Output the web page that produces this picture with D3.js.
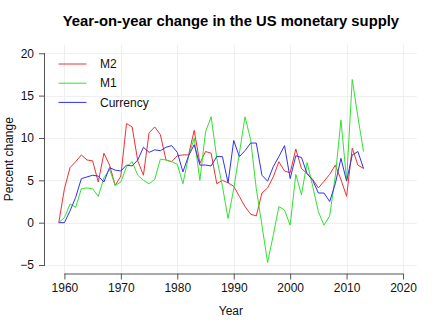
<!DOCTYPE html>
<html>
<head>
<meta charset="utf-8">
<script src="https://cdn.jsdelivr.net/npm/d3@7"></script>
<style>
  html, body { margin: 0; padding: 0; background: #fff; }
  svg { display: block; font-family: "Liberation Sans", Arial, Helvetica, sans-serif; }
</style>
</head>
<body>
<svg id="chart" width="440" height="330"></svg>
<script>
// ---- data ----
const years = d3.range(1959, 2014);
const m2 = [0, 4.0, 6.5, 7.2, 8.0, 7.4, 7.3, 4.8, 8.2, 6.8,
            4.4, 5.5, 11.7, 11.3, 7.3, 5.6, 10.6, 11.3, 10.4, 7.4,
            7.2, 7.9, 8.0, 8.0, 10.9, 7.0, 8.4, 8.2, 4.6, 5.0,
            4.7, 4.3, 3.1, 1.9, 1.0, 0.8, 3.5, 4.1, 5.4, 7.2,
            6.1, 5.9, 8.7, 6.4, 5.8, 5.1, 4.1, 4.9, 5.7, 6.8,
            5.1, 3.1, 8.8, 6.8, 6.4];
const m1 = [0, 0.6, 2.2, 1.8, 4.0, 4.1, 4.0, 3.1, 5.3, 6.3,
            4.4, 4.8, 6.6, 7.2, 5.6, 5.0, 4.6, 5.1, 7.5, 7.4,
            7.2, 6.9, 4.6, 7.8, 10.0, 5.0, 10.7, 12.5, 7.6, 4.3,
            0.5, 4.0, 8.2, 12.5, 9.8, 4.0, -0.3, -4.7, -1.5, 1.9,
            1.5, -0.3, 5.7, 3.3, 7.1, 4.3, 1.3, -0.3, 0.8, 5.5,
            12.1, 5.0, 16.9, 12.5, 8.4];
const currency = [0, 0, 1.4, 3.0, 5.2, 5.4, 5.6, 5.5, 4.8, 6.5,
            6.2, 6.1, 6.8, 6.7, 7.4, 8.9, 8.3, 8.6, 8.5, 8.9,
            9.1, 8.3, 6.0, 7.9, 9.2, 6.8, 6.8, 6.7, 7.8, 7.8,
            4.7, 9.7, 7.8, 8.5, 9.4, 9.4, 5.6, 4.9, 6.6, 7.8,
            9.1, 5.2, 7.9, 7.7, 5.8, 5.0, 3.5, 3.5, 2.5, 4.6,
            7.6, 4.9, 8.0, 8.4, 6.4];
const seriesNames = ["M2", "M1", "Currency"];
const seriesColors = ["#f03030", "#33e033", "#3030f8"];
const xTicks = [1960, 1970, 1980, 1990, 2000, 2010, 2020];
const yTicks = [-5, 0, 5, 10, 15, 20];
const titleText = "Year-on-year change in the US monetary supply";
const xLabel = "Year";
const yLabel = "Percent change";

// ---- layout ----
const svg = d3.select("#chart");
const plot = { left: 45, right: 416.8, top: 44.8, bottom: 273.5 };
const x = d3.scaleLinear().domain([1956.56, 2022.44]).range([plot.left, plot.right]);
const y = d3.scaleLinear().domain([-6, 21]).range([plot.bottom, plot.top]);

// grid
const grid = svg.append("g").attr("stroke", "#efefef").attr("stroke-width", 1);
grid.selectAll("line.v").data(xTicks).join("line")
  .attr("x1", d => Math.round(x(d)) + 0.5).attr("x2", d => Math.round(x(d)) + 0.5)
  .attr("y1", plot.top).attr("y2", plot.bottom);
grid.selectAll("line.h").data(yTicks).join("line")
  .attr("y1", d => Math.round(y(d)) + 0.5).attr("y2", d => Math.round(y(d)) + 0.5)
  .attr("x1", plot.left).attr("x2", plot.right);

// axes
const xAxis = d3.axisBottom(x).tickValues(xTicks).tickFormat(d3.format("d")).tickSizeOuter(0).tickSize(6).tickPadding(4);
const yAxis = d3.axisLeft(y).tickValues(yTicks).tickSizeOuter(0).tickSize(6).tickPadding(5);

const gx = svg.append("g").attr("transform", `translate(0,${plot.bottom})`).call(xAxis);
const gy = svg.append("g").attr("transform", `translate(${plot.left},0)`).call(yAxis);
[gx, gy].forEach(g => {
  g.select(".domain").remove();
  g.selectAll(".tick line").attr("stroke", "#555");
  g.selectAll(".tick text").attr("fill", "#111").style("font-size", "12px");
});
// R-style axis lines spanning first to last tick
gx.append("line").attr("x1", x(xTicks[0])).attr("x2", x(xTicks[xTicks.length - 1]))
  .attr("y1", 0.5).attr("y2", 0.5).attr("stroke", "#555");
gy.append("line").attr("y1", y(yTicks[0])).attr("y2", y(yTicks[yTicks.length - 1]))
  .attr("x1", -0.5).attr("x2", -0.5).attr("stroke", "#555");

// lines
const allSeries = [m2, m1, currency];
const lineGen = d3.line().x((d, i) => x(years[i])).y(d => y(d));
svg.append("g").selectAll("path").data(allSeries).join("path")
  .attr("d", d => lineGen(d))
  .attr("fill", "none")
  .attr("stroke", (d, i) => seriesColors[i])
  .attr("stroke-width", 1)
  .attr("stroke-linejoin", "round");

// legend
const leg = svg.append("g");
seriesNames.forEach((name, i) => {
  const ly = 64 + i * 19.2;
  leg.append("line").attr("x1", 58.5).attr("x2", 86.5).attr("y1", ly).attr("y2", ly)
    .attr("stroke", seriesColors[i]).attr("stroke-width", 1);
  leg.append("text").attr("x", 100).attr("y", ly).attr("dy", "0.35em")
    .style("font-size", "12px").attr("fill", "#111").text(name);
});

// title and labels
svg.append("text").attr("x", (plot.left + plot.right) / 2).attr("y", 26)
  .attr("text-anchor", "middle").style("font-size", "14.8px").style("font-weight", "bold")
  .text(titleText);
svg.append("text").attr("x", (plot.left + plot.right) / 2).attr("y", 315)
  .attr("text-anchor", "middle").style("font-size", "12px").attr("fill", "#111").text(xLabel);
svg.append("text").attr("transform", `translate(13,${(y(20) + y(-5)) / 2}) rotate(-90)`)
  .attr("text-anchor", "middle").style("font-size", "12px").attr("fill", "#111").text(yLabel);
</script>
</body>
</html>
